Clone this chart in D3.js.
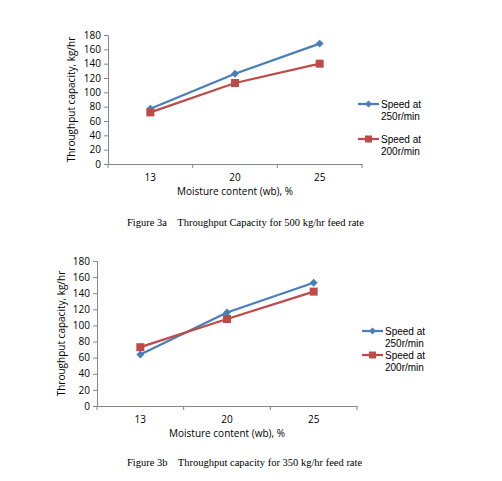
<!DOCTYPE html>
<html>
<head>
<meta charset="utf-8">
<script src="https://cdn.jsdelivr.net/npm/d3@7"></script>
<style>
  body { margin: 0; background: #fff; }
  .axisText { font-family: "Open Sans", "Liberation Sans", sans-serif; font-size: 10px; fill: #000; }
  .legendText { font-family: "Liberation Sans", sans-serif; font-size: 10px; fill: #000; }
  .caption { font-family: "Liberation Serif", serif; font-size: 10.5px; fill: #000; white-space: pre; }
</style>
</head>
<body>
<div id="chart"></div>
<script>
// Data
var categories = ["13", "20", "25"];
var yTicks = [0, 20, 40, 60, 80, 100, 120, 140, 160, 180];

var speed250a = [77, 126, 168];
var speed200a = [72, 113, 140];

var speed250b = [64, 116, 153];
var speed200b = [73, 108, 142];

var seriesNames = [["Speed at", "250r/min"], ["Speed at", "200r/min"]];
var captions = [
  "Figure 3a    Throughput Capacity for 500 kg/hr feed rate",
  "Figure 3b    Throughput capacity for 350 kg/hr feed rate"
];

var svgWidth = 502;
var svgHeight = 481;

var svg = d3.select("#chart")
  .append("svg")
  .attr("width", svgWidth)
  .attr("height", svgHeight);

var blue = "#4a7ebb";
var red = "#be4b48";
var axisColor = "#868686";

// draw one panel; box = plot area in page pixels
function drawPanel(box, s250, s200, legend, caption) {
  var g = svg.append("g");

  var x = d3.scaleBand()
    .domain(categories)
    .range([box.left, box.right]);

  var y = d3.scaleLinear()
    .domain([0, 180])
    .range([box.bottom, box.top]);

  // y axis
  var leftAxis = d3.axisLeft(y).tickValues(yTicks).tickSize(4).tickPadding(3);
  var ya = g.append("g")
    .attr("transform", `translate(${box.left}, 0)`)
    .call(leftAxis);
  ya.select(".domain").attr("stroke", axisColor);
  ya.selectAll(".tick line").attr("stroke", axisColor);
  ya.selectAll("text").attr("class", "axisText").attr("font-family", null).attr("font-size", null);

  // x axis with ticks at category boundaries
  var xa = g.append("g")
    .attr("transform", `translate(0, ${box.bottom})`)
    .call(d3.axisBottom(x).tickSize(0).tickPadding(10));
  xa.select(".domain").attr("stroke", axisColor);
  xa.selectAll("text").attr("class", "axisText").attr("font-family", null).attr("font-size", null);
  var bounds = categories.map(c => x(c)).concat([box.right]);
  g.selectAll(".xtick")
    .data(bounds)
    .enter()
    .append("line")
    .attr("x1", d => d).attr("x2", d => d)
    .attr("y1", box.bottom).attr("y2", box.bottom + 4)
    .attr("stroke", axisColor);

  var line = d3.line()
    .x((d, i) => x(categories[i]) + x.bandwidth() / 2)
    .y(d => y(d));

  g.append("path").datum(s250)
    .attr("d", line).attr("fill", "none")
    .attr("stroke", blue).attr("stroke-width", 2.25);
  g.append("path").datum(s200)
    .attr("d", line).attr("fill", "none")
    .attr("stroke", red).attr("stroke-width", 2.25);

  var diamond = d3.symbol().type(d3.symbolDiamond2).size(40);
  g.selectAll(".d250")
    .data(s250)
    .enter()
    .append("path")
    .attr("d", diamond)
    .attr("transform", (d, i) => `translate(${x(categories[i]) + x.bandwidth() / 2}, ${y(d)})`)
    .attr("fill", blue);

  g.selectAll(".s200")
    .data(s200)
    .enter()
    .append("rect")
    .attr("x", (d, i) => x(categories[i]) + x.bandwidth() / 2 - 4)
    .attr("y", d => y(d) - 4)
    .attr("width", 8).attr("height", 8)
    .attr("fill", red);

  // axis titles
  g.append("text")
    .attr("class", "axisText")
    .attr("text-anchor", "middle")
    .attr("transform", `translate(${box.ytitleX}, ${(box.top + box.bottom) / 2}) rotate(-90)`)
    .text("Throughput capacity, kg/hr");

  g.append("text")
    .attr("class", "axisText")
    .attr("text-anchor", "middle")
    .attr("x", (box.left + box.right) / 2)
    .attr("y", box.xtitleY)
    .text("Moisture content (wb), %");

  // legend
  var colors = [blue, red];
  legend.rows.forEach(function(ly, k) {
    g.append("line")
      .attr("x1", legend.x).attr("x2", legend.x + 21)
      .attr("y1", ly).attr("y2", ly)
      .attr("stroke", colors[k]).attr("stroke-width", 2.25);
    if (k === 0) {
      g.append("path")
        .attr("d", d3.symbol().type(d3.symbolDiamond2).size(30))
        .attr("transform", `translate(${legend.x + 10.5}, ${ly})`)
        .attr("fill", blue);
    } else {
      g.append("rect")
        .attr("x", legend.x + 7).attr("y", ly - 3.5)
        .attr("width", 7).attr("height", 7)
        .attr("fill", red);
    }
    seriesNames[k].forEach(function(s, j) {
      g.append("text")
        .attr("class", "legendText")
        .attr("x", legend.x + 23)
        .attr("y", ly + 3.5 + j * 12)
        .text(s);
    });
  });

  svg.append("text")
    .attr("class", "caption")
    .attr("x", 127)
    .attr("y", box.captionY)
    .text(caption);
}

drawPanel({left: 108, right: 362, top: 35, bottom: 164, ytitleX: 75, xtitleY: 195, captionY: 226},
  speed250a, speed200a, {x: 358, rows: [104, 139]}, captions[0]);

drawPanel({left: 97, right: 357, top: 261, bottom: 406, ytitleX: 65, xtitleY: 437, captionY: 466},
  speed250b, speed200b, {x: 362, rows: [331, 355]}, captions[1]);
</script>
</body>
</html>
